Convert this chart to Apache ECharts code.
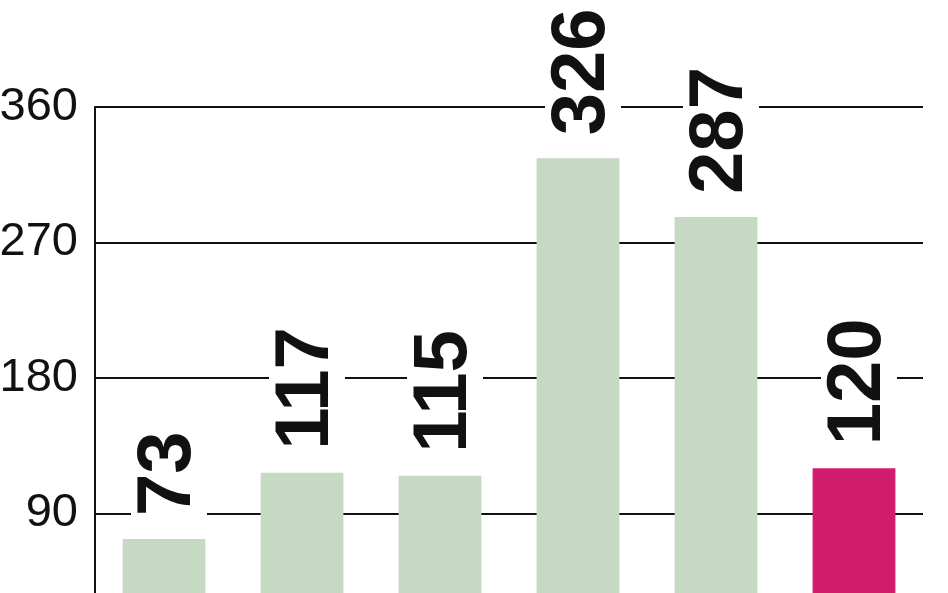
<!DOCTYPE html>
<html>
<head>
<meta charset="utf-8">
<script src="https://cdn.jsdelivr.net/npm/echarts@6/dist/echarts.min.js"></script>
<style>
html,body{margin:0;padding:0;background:#fff;overflow:hidden;width:948px;height:593px;}
#chart{width:948px;height:649px;}
</style>
</head>
<body>
<div id="chart"></div>
<script>
const categories = ['1', '2', '3', '4', '5', '6'];
const values = [73, 117, 115, 326, 287, 120];
const highlightIndex = 5;
const yTicks = { min: 0, max: 360, interval: 90 };

const GREEN = '#c6d9c3';
const MAGENTA = '#d21c6e';
const FONT = "'Liberation Sans', Arial, sans-serif";

const chart = echarts.init(document.getElementById('chart'), null, { renderer: 'canvas' });
chart.setOption({
  animation: false,
  backgroundColor: '#fff',
  grid: { left: 95, right: 25, top: 107, bottom: 0, containLabel: false, outerBoundsMode: 'none' },
  xAxis: {
    type: 'category',
    data: categories,
    axisLine: { show: false },
    axisTick: { show: false },
    axisLabel: { show: false }
  },
  yAxis: {
    type: 'value',
    min: yTicks.min,
    max: yTicks.max,
    interval: yTicks.interval,
    axisLine: { show: true, lineStyle: { color: '#111', width: 2 } },
    axisTick: { show: false },
    splitLine: { show: true, lineStyle: { color: '#111', width: 2 } },
    axisLabel: {
      color: '#111',
      fontFamily: FONT,
      fontSize: 47,
      margin: 17,
      padding: [0, 0, 10, 0],
      formatter: v => (v === 0 ? '' : String(v))
    }
  },
  series: [{
    type: 'bar',
    barCategoryGap: '40%',
    data: values.map((v, i) => ({
      value: v,
      itemStyle: { color: i === highlightIndex ? MAGENTA : GREEN }
    })),
    label: {
      show: true,
      position: 'top',
      distance: 19,
      offset: [0, 5],
      rotate: 90,
      align: 'left',
      verticalAlign: 'middle',
      color: '#111',
      fontFamily: FONT,
      fontWeight: 'bold',
      fontSize: 76,
      backgroundColor: '#fff',
      padding: [0, 4, 0, 4]
    }
  }]
});
</script>
</body>
</html>
